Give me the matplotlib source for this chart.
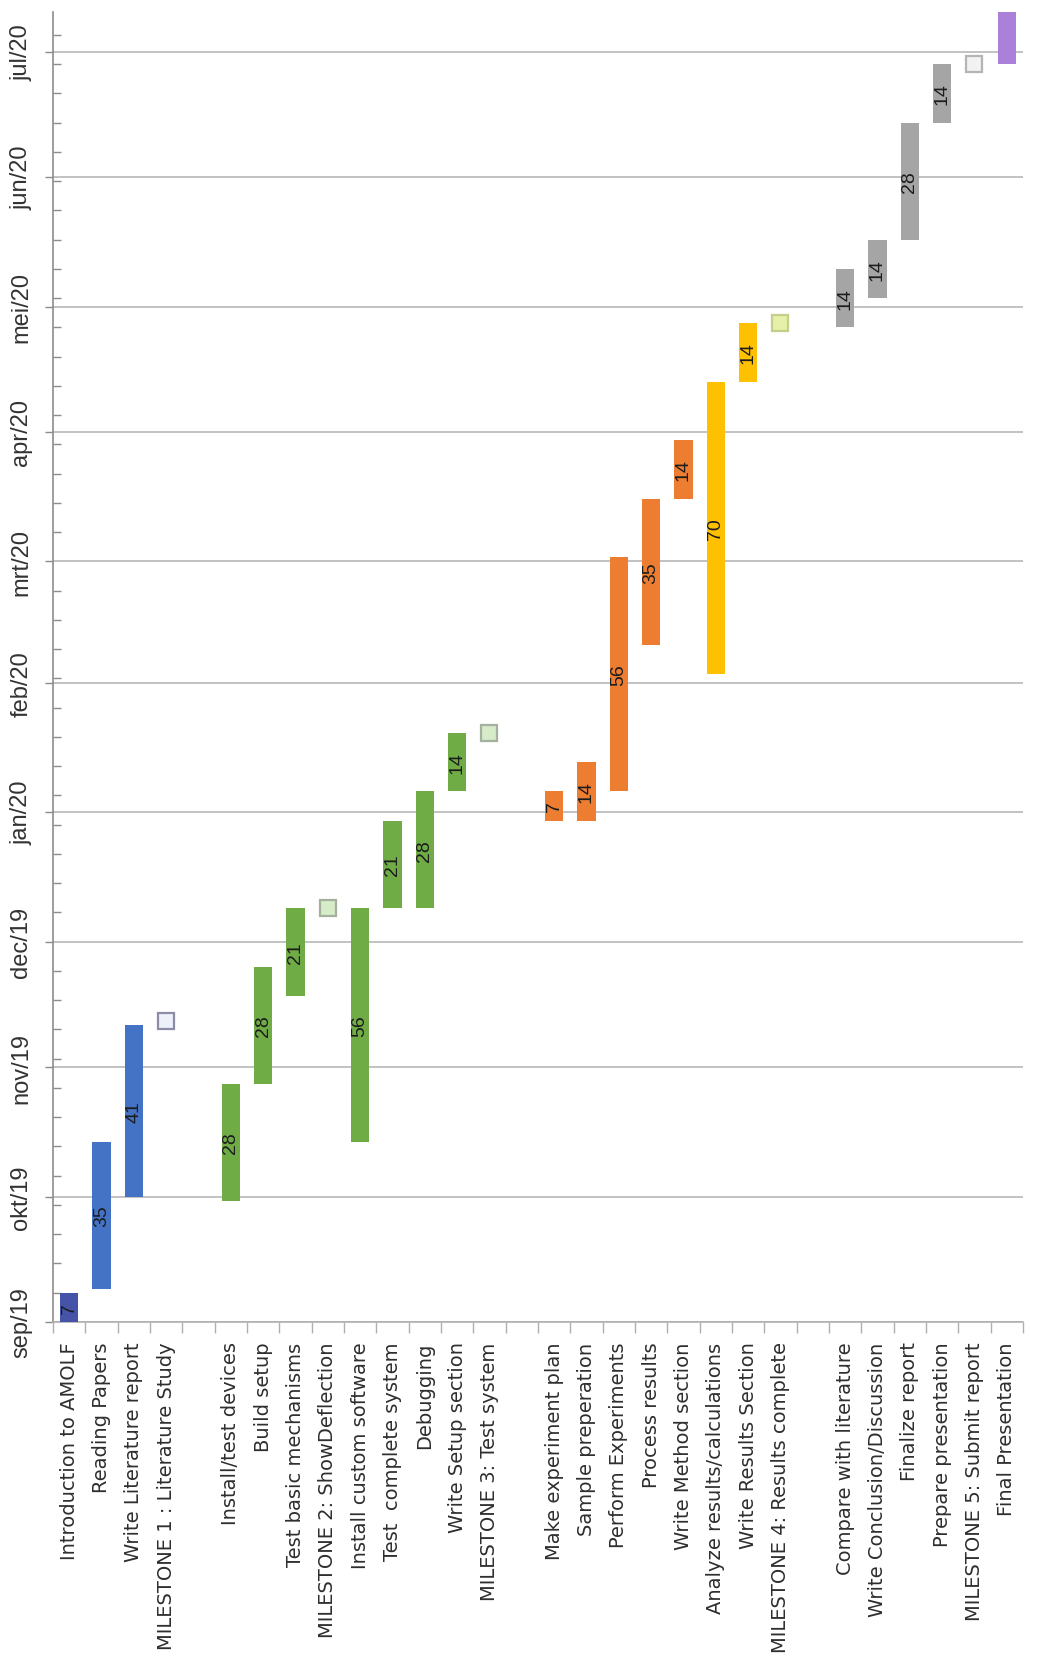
import matplotlib
matplotlib.use("Agg")
import matplotlib.pyplot as plt
import matplotlib.dates as mdates
from matplotlib.ticker import FixedLocator, FixedFormatter
import numpy as np
import datetime as dt

# ---------------- data ----------------
tasks = [
    "Introduction to AMOLF", "Reading Papers", "Write Literature report",
    "MILESTONE 1 : Literature Study", "",
    "Install/test devices", "Build setup", "Test basic mechanisms",
    "MILESTONE 2: ShowDeflection", "Install custom software",
    "Test  complete system", "Debugging", "Write Setup section",
    "MILESTONE 3: Test system", "",
    "Make experiment plan", "Sample preperation", "Perform Experiments",
    "Process results", "Write Method section", "Analyze results/calculations",
    "Write Results Section", "MILESTONE 4: Results complete", "",
    "Compare with literature", "Write Conclusion/Discussion", "Finalize report",
    "Prepare presentation", "MILESTONE 5: Submit report", "Final Presentation",
]

# start dates (None = blank row)
starts = [
    "2019-09-01", "2019-09-09", "2019-10-01", "2019-11-12", None,
    "2019-09-30", "2019-10-28", "2019-11-18", "2019-12-09", "2019-10-14",
    "2019-12-09", "2019-12-09", "2020-01-06", "2020-01-20", None,
    "2019-12-30", "2019-12-30", "2020-01-06", "2020-02-10", "2020-03-16",
    "2020-02-03", "2020-04-13", "2020-04-27", None,
    "2020-04-26", "2020-05-03", "2020-05-17", "2020-06-14", "2020-06-28",
    "2020-06-28",
]

# durations in days (0 = milestone, None = blank row)
durations = [
    7, 35, 41, 0, None,
    28, 28, 21, 0, 56, 21, 28, 14, 0, None,
    7, 14, 56, 35, 14, 70, 14, 0, None,
    14, 14, 28, 14, 0, 14,
]

# show duration label on bar
show_label = [
    True, True, True, False, False,
    True, True, True, False, True, True, True, True, False, False,
    True, True, True, True, True, True, True, False, False,
    True, True, True, True, False, False,
]

groups = [
    "intro", "blue", "blue", "blue", None,
    "green", "green", "green", "green", "green", "green", "green", "green", "green", None,
    "orange", "orange", "orange", "orange", "orange", "yellow", "yellow", "yellow", None,
    "grey", "grey", "grey", "grey", "grey", "purple",
]

month_ticks = ["2019-09-01", "2019-10-01", "2019-11-01", "2019-12-01", "2020-01-01",
               "2020-02-01", "2020-03-01", "2020-04-01", "2020-05-01", "2020-06-01",
               "2020-07-01"]
month_labels = ["sep/19", "okt/19", "nov/19", "dec/19", "jan/20", "feb/20",
                "mrt/20", "apr/20", "mei/20", "jun/20", "jul/20"]

axis_start = "2019-09-01"
axis_end = "2020-07-10"

# ---------------- styles ----------------
bar_colors = {
    "intro": "#4654a8", "blue": "#4472c4", "green": "#6fac46",
    "orange": "#ed7d31", "yellow": "#ffc000", "grey": "#a5a5a5",
    "purple": "#ab80d8",
}
ms_face = {"blue": "#eef0fa", "green": "#d6ebc8", "yellow": "#e6f0a8", "grey": "#f2f2f2"}
ms_edge = {"blue": "#8c8ca6", "green": "#a6b09e", "yellow": "#c6cf8a", "grey": "#b4b4b4"}

def dnum(s):
    return mdates.date2num(dt.datetime.strptime(s, "%Y-%m-%d"))

W, H = 1041, 1665
fig = plt.figure(figsize=(W / 100, H / 100), dpi=100)
ax = fig.add_axes([53 / W, 1 - 1323 / H, (1023 - 53) / W, (1323 - 13) / H])

x = np.arange(len(tasks))
for i in range(len(tasks)):
    if starts[i] is None:
        continue
    s = dnum(starts[i])
    d = durations[i]
    g = groups[i]
    if d == 0:
        ax.plot(x[i], s, marker="s", ms=12, mfc=ms_face[g], mec=ms_edge[g],
                mew=1.6, zorder=4, clip_on=False)
        continue
    ax.bar(x[i], d, bottom=s, width=0.56, color=bar_colors[g], zorder=3,
           linewidth=0)
    if show_label[i]:
        ax.text(x[i], s + d / 2, str(d), rotation=90, ha="center", va="center",
                fontsize=14, family="Liberation Sans", color="#1c1c1c", zorder=5)

ax.set_xlim(-0.5, len(tasks) - 0.5)
ax.set_ylim(dnum(axis_start), dnum(axis_end) + 0.5)

# y axis (dates)
ytick_vals = [dnum(m) for m in month_ticks]
ax.yaxis.set_major_locator(FixedLocator(ytick_vals))
ax.yaxis.set_major_formatter(FixedFormatter(month_labels))
ax.yaxis.set_minor_locator(FixedLocator(np.arange(dnum(axis_start), dnum(axis_end) + 1, 7)))
ax.tick_params(axis="y", which="major", direction="out", length=6, width=1,
               color="#8c8c8c", pad=9, labelsize=17, labelcolor="#333333")
ax.tick_params(axis="y", which="minor", direction="in", length=6, width=1,
               color="#8c8c8c")
for lbl in ax.get_yticklabels():
    lbl.set_rotation(90)
    lbl.set_ha("right")
    lbl.set_va("center")
    lbl.set_family("Liberation Sans")

ax.grid(axis="y", which="major", color="#bdbdbd", lw=1.3, zorder=0)
ax.set_axisbelow(True)

# x axis (tasks)
ax.set_xticks(x)
ax.set_xticklabels(tasks, rotation=90, ha="center", va="top",
                   fontsize=14, family="DejaVu Sans", color="#2e2e2e")
ax.set_xticks(np.arange(-0.5, len(tasks), 1.0), minor=True)
ax.tick_params(axis="x", which="major", length=0, pad=14)
ax.tick_params(axis="x", which="minor", direction="out", length=8, width=1,
               color="#b0b0b0")

for side in ["top", "right"]:
    ax.spines[side].set_visible(False)
ax.spines["left"].set_color("#8c8c8c")
ax.spines["bottom"].set_color("#b0b0b0")
ax.spines["left"].set_linewidth(1.2)
ax.spines["bottom"].set_linewidth(1.2)

fig.savefig("out.png", dpi=100, facecolor="white")
